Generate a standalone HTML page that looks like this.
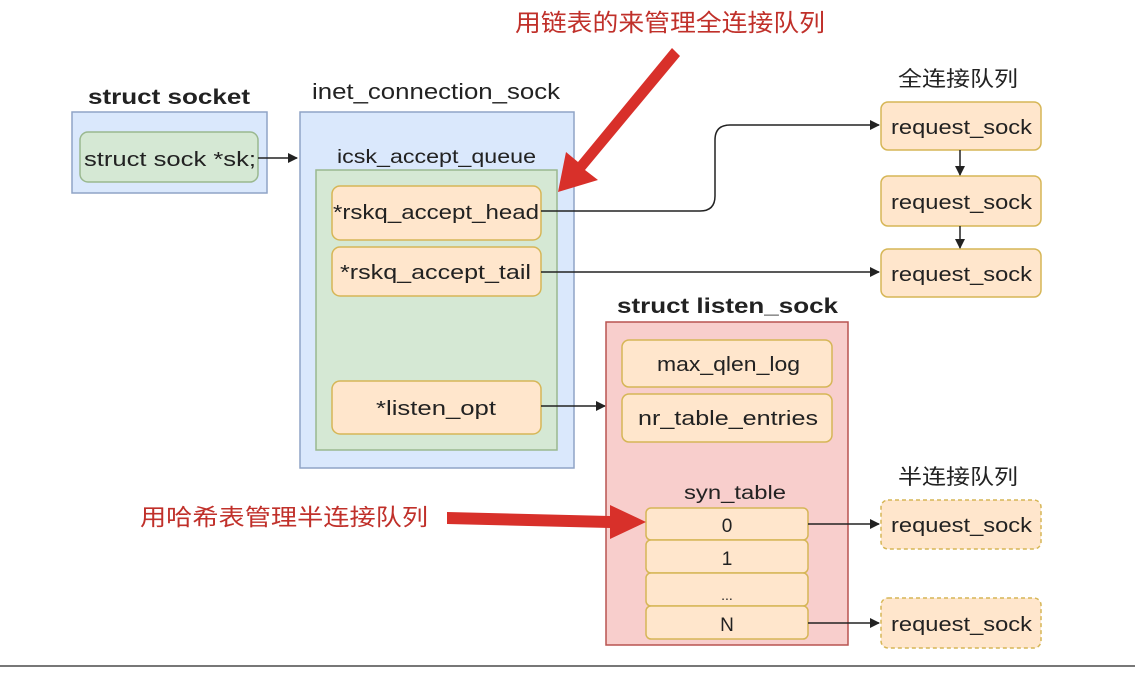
<!DOCTYPE html>
<html><head><meta charset="utf-8"><style>
html,body{margin:0;padding:0;background:#fff;}
svg text{font-family:"Liberation Sans","Noto Sans CJK SC",sans-serif;fill:#222;}
</style></head><body>
<svg width="1135" height="668" viewBox="0 0 1135 668" xmlns="http://www.w3.org/2000/svg">
<defs>
<marker id="a" markerWidth="10" markerHeight="10" refX="9" refY="5" orient="auto" markerUnits="userSpaceOnUse"><path d="M0,0 L10,5 L0,10 z" fill="#222"/></marker>
</defs>
<text x="515" y="31" font-size="24" textLength="310" lengthAdjust="spacingAndGlyphs" style="fill:#c0302a">用链表的来管理全连接队列</text>
<text x="88" y="104" font-size="21" textLength="162" lengthAdjust="spacingAndGlyphs" font-weight="bold">struct socket</text>
<rect x="72" y="112" width="195" height="81" fill="#dae8fc" stroke="#8fa4c6" stroke-width="1.5"/>
<rect x="80" y="132" width="178" height="50" rx="8" fill="#d5e8d4" stroke="#9ab88f" stroke-width="1.5"/>
<text x="84" y="166" font-size="20" textLength="172" lengthAdjust="spacingAndGlyphs">struct sock *sk;</text>
<line x1="258" y1="158" x2="297" y2="158" stroke="#222" stroke-width="1.5" marker-end="url(#a)"/>

<text x="312" y="99" font-size="22" textLength="248" lengthAdjust="spacingAndGlyphs">inet_connection_sock</text>
<rect x="300" y="112" width="274" height="356" fill="#dae8fc" stroke="#8fa4c6" stroke-width="1.5"/>
<text x="337" y="163" font-size="19" textLength="199" lengthAdjust="spacingAndGlyphs">icsk_accept_queue</text>
<rect x="316" y="170" width="241" height="280" fill="#d5e8d4" stroke="#9ab88f" stroke-width="1.5"/>
<rect x="332" y="186" width="209" height="54" rx="8" fill="#ffe6cc" stroke="#d6b656" stroke-width="1.5"/>
<text x="333" y="219" font-size="20" textLength="206" lengthAdjust="spacingAndGlyphs">*rskq_accept_head</text>
<rect x="332" y="247" width="209" height="49" rx="8" fill="#ffe6cc" stroke="#d6b656" stroke-width="1.5"/>
<text x="340" y="279" font-size="20" textLength="191" lengthAdjust="spacingAndGlyphs">*rskq_accept_tail</text>
<rect x="332" y="381" width="209" height="53" rx="8" fill="#ffe6cc" stroke="#d6b656" stroke-width="1.5"/>
<text x="376" y="415" font-size="20" textLength="120" lengthAdjust="spacingAndGlyphs">*listen_opt</text>

<path d="M541,211 L700,211 Q715,211 715,196 L715,140 Q715,125 730,125 L879,125" fill="none" stroke="#222" stroke-width="1.5" marker-end="url(#a)"/>
<line x1="541" y1="272" x2="879" y2="272" stroke="#222" stroke-width="1.5" marker-end="url(#a)"/>
<line x1="541" y1="406" x2="605" y2="406" stroke="#222" stroke-width="1.5" marker-end="url(#a)"/>

<polygon points="672,48 680,56 585,170 598,180 558,192 566,152 578,162" fill="#d8302a"/>

<text x="898" y="86" font-size="21" textLength="120" lengthAdjust="spacingAndGlyphs">全连接队列</text>
<rect x="881" y="102" width="160" height="48" rx="7" fill="#ffe6cc" stroke="#d6b656" stroke-width="1.5"/>
<text x="891" y="134" font-size="20" textLength="141" lengthAdjust="spacingAndGlyphs">request_sock</text>
<rect x="881" y="176" width="160" height="50" rx="7" fill="#ffe6cc" stroke="#d6b656" stroke-width="1.5"/>
<text x="891" y="209" font-size="20" textLength="141" lengthAdjust="spacingAndGlyphs">request_sock</text>
<rect x="881" y="249" width="160" height="48" rx="7" fill="#ffe6cc" stroke="#d6b656" stroke-width="1.5"/>
<text x="891" y="281" font-size="20" textLength="141" lengthAdjust="spacingAndGlyphs">request_sock</text>
<line x1="960" y1="150" x2="960" y2="175" stroke="#222" stroke-width="1.5" marker-end="url(#a)"/>
<line x1="960" y1="226" x2="960" y2="248" stroke="#222" stroke-width="1.5" marker-end="url(#a)"/>

<text x="617" y="313" font-size="21" textLength="221" lengthAdjust="spacingAndGlyphs" font-weight="bold">struct listen_sock</text>
<rect x="606" y="322" width="242" height="323" fill="#f8cecc" stroke="#b85450" stroke-width="1.5"/>
<rect x="622" y="340" width="210" height="47" rx="7" fill="#ffe6cc" stroke="#d6b656" stroke-width="1.5"/>
<text x="657" y="371" font-size="20" textLength="143" lengthAdjust="spacingAndGlyphs">max_qlen_log</text>
<rect x="622" y="394" width="210" height="48" rx="7" fill="#ffe6cc" stroke="#d6b656" stroke-width="1.5"/>
<text x="638" y="425" font-size="20" textLength="180" lengthAdjust="spacingAndGlyphs">nr_table_entries</text>
<text x="684" y="499" font-size="19" textLength="102" lengthAdjust="spacingAndGlyphs">syn_table</text>
<rect x="646" y="508" width="162" height="32" rx="5" fill="#ffe6cc" stroke="#d6b656" stroke-width="1.5"/>
<text x="727" y="532" font-size="19" text-anchor="middle">0</text>
<rect x="646" y="540" width="162" height="33" rx="5" fill="#ffe6cc" stroke="#d6b656" stroke-width="1.5"/>
<text x="727" y="565" font-size="19" text-anchor="middle">1</text>
<rect x="646" y="573" width="162" height="33" rx="5" fill="#ffe6cc" stroke="#d6b656" stroke-width="1.5"/>
<text x="727" y="600" font-size="14" text-anchor="middle">...</text>
<rect x="646" y="606" width="162" height="33" rx="5" fill="#ffe6cc" stroke="#d6b656" stroke-width="1.5"/>
<text x="727" y="631" font-size="19" text-anchor="middle">N</text>

<text x="898" y="484" font-size="21" textLength="120" lengthAdjust="spacingAndGlyphs">半连接队列</text>
<rect x="881" y="500" width="160" height="49" rx="7" fill="#ffe6cc" stroke="#d6b656" stroke-width="1.5" stroke-dasharray="4,3"/>
<text x="891" y="532" font-size="20" textLength="141" lengthAdjust="spacingAndGlyphs">request_sock</text>
<rect x="881" y="598" width="160" height="50" rx="7" fill="#ffe6cc" stroke="#d6b656" stroke-width="1.5" stroke-dasharray="4,3"/>
<text x="891" y="631" font-size="20" textLength="141" lengthAdjust="spacingAndGlyphs">request_sock</text>
<line x1="808" y1="524" x2="879" y2="524" stroke="#222" stroke-width="1.5" marker-end="url(#a)"/>
<line x1="808" y1="623" x2="879" y2="623" stroke="#222" stroke-width="1.5" marker-end="url(#a)"/>

<polygon points="447,512 610,516 610,505 646,522 610,539 610,528 447,524" fill="#d8302a"/>
<text x="140" y="525" font-size="23" textLength="288" lengthAdjust="spacingAndGlyphs" style="fill:#c0302a">用哈希表管理半连接队列</text>

<line x1="0" y1="666" x2="1135" y2="666" stroke="#777" stroke-width="2"/>
</svg>
</body></html>
